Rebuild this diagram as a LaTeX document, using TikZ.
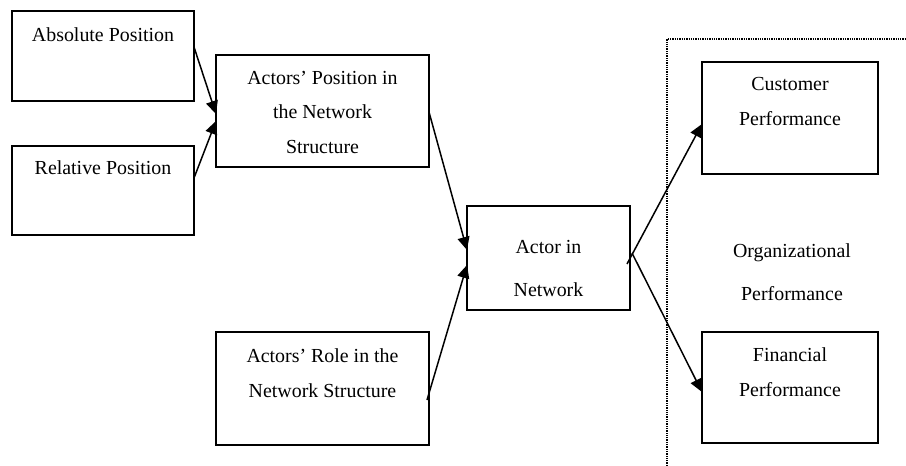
\documentclass[tikz,border=0pt]{standalone}
\usepackage{fontspec}
\setmainfont{Liberation Serif}
\usetikzlibrary{arrows.meta}
\begin{document}
\begin{tikzpicture}[x=1pt,y=-1pt,
  box/.style={draw, line width=1.7pt, rectangle, inner sep=0pt, outer sep=0pt},
  txt/.style={align=center, inner sep=0pt, font=\fontsize{19.9}{34.5}\selectfont},
  arr/.style={line width=1.5pt, -{Triangle[length=13pt,width=12pt]}},
  region/.style={densely dotted, line width=1.3pt}]
\useasboundingbox (0,0) rectangle (906,466);
% boxes
\node[box, minimum width=182pt, minimum height=90pt] (abs) at (103,56) {};
\node[box, minimum width=182pt, minimum height=89pt] (rel) at (103,190.5) {};
\node[box, minimum width=213pt, minimum height=112pt] (pos) at (322.5,111) {};
\node[box, minimum width=213pt, minimum height=113pt] (role) at (322.5,388.5) {};
\node[box, minimum width=163pt, minimum height=104pt] (actor) at (548.5,258) {};
\node[box, minimum width=176pt, minimum height=112pt] (cust) at (790,118) {};
\node[box, minimum width=176pt, minimum height=111pt] (fin) at (790,387.5) {};
% texts
\node[txt, anchor=base] (absT) at (103,41) {Absolute Position};
\node[txt, anchor=base] (relT) at (103,174) {Relative Position};
\node[txt] (posT) at (322.5,112) {Actors' Position in\\the Network\\Structure};
\node[txt] (roleT) at (322.5,373) {Actors' Role in the\\Network Structure};
\node[txt, font=\fontsize{19.9}{43}\selectfont] (actorT) at (548.5,269) {Actor in\\Network};
\node[txt] (custT) at (790,101.5) {Customer\\Performance};
\node[txt] (finT) at (790,372) {Financial\\Performance};
\node[txt, font=\fontsize{19.9}{43}\selectfont] (org) at (792,272) {Organizational\\Performance};
% region
\coordinate (rb) at (667,466);
\coordinate (rc) at (667,39);
\coordinate (rr) at (906,39);
\draw[region] (rb) -- (rc) -- (rr);
% connectors
\draw[arr] (abs.east |- 0,47) -- (pos.west |- 0,114);
\draw[arr] (rel.east |- 0,178) -- (pos.west |- 0,121);
\draw[arr] (pos.east |- 0,112) -- (actor.west |- 0,250);
\draw[arr] ([xshift=-2pt]role.east |- 0,400) -- (actor.west |- 0,265);
\draw[arr] ([xshift=-3pt]actor.east |- 0,264) -- (cust.west |- 0,124);
\draw[arr] ([xshift=2pt]actor.east |- 0,253) -- (fin.west |- 0,392);
\end{tikzpicture}
\end{document}
